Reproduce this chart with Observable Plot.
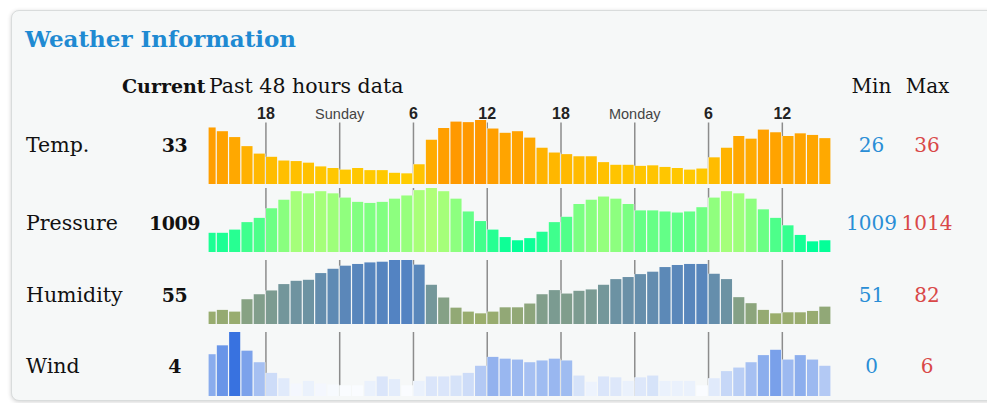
<!DOCTYPE html>
<html>
<head>
<meta charset="utf-8">
<script src="https://cdn.jsdelivr.net/npm/d3@7"></script>
<script src="https://cdn.jsdelivr.net/npm/@observablehq/plot@0.6"></script>
<style>
  html, body { margin: 0; padding: 0; background: #ffffff; }
  #root { position: relative; width: 987px; height: 403px; overflow: hidden; }
  #card { position: absolute; left: 11px; top: 10px; width: 990px; height: 389px;
          background: #f6f8f8; border: 1px solid #d9dcdc; border-radius: 8px;
          box-shadow: 0 1px 4px rgba(0,0,0,0.18); }
  .row { position: absolute; left: 0; }
  #labels { position: absolute; left: 0; top: 0; }
</style>
</head>
<body>
<div id="root"><div id="card"></div></div>
<script>
// ---- Data ----
// bar start hours (Saturday 13:20 .. Monday 15:00), each bar lasts until the next start; last ends at 64 (Mon 16:00)
const barStart = [13.33, 14, 15, 16, 17, 18, 19, 20, 21, 22, 23, 24, 25, 26, 27, 28, 29, 30, 31, 32,
  33, 34, 35, 36, 37, 38, 39, 40, 41, 42, 43, 44, 45, 46, 47, 48, 49, 50, 51, 52,
  53, 54, 55, 56, 57, 58, 59, 60, 61, 62, 63];
const lastEnd = 64;

const temp = [34.6, 33.9, 32.8, 31.1, 29.7, 29.1, 28.4, 28.3, 28.0, 27.3, 27.0, 26.7, 27.0, 26.6, 26.6, 26.1, 26.0,
  27.7, 32.3, 34.5, 35.7, 35.6, 36.0, 34.4, 33.6, 33.9, 32.7, 30.8, 29.9, 29.6, 29.2, 29.2, 28.1, 27.6,
  27.6, 27.4, 27.5, 27.2, 27.0, 26.7, 26.9, 29.0, 30.8, 33.0, 32.5, 34.2, 33.7, 33.0, 33.5, 33.2, 32.6];

const pressure = [1009.8, 1009.8, 1010.1, 1010.8, 1011.2, 1012.1, 1012.9, 1013.7, 1013.5, 1013.7, 1013.5, 1013.1,
  1012.7, 1012.6, 1012.7, 1013.0, 1013.3, 1013.8, 1014.0, 1013.7, 1013.0, 1011.8, 1010.9, 1010.1, 1009.4,
  1009.1, 1009.3, 1009.9, 1010.8, 1011.3, 1012.5, 1012.9, 1013.2, 1013.0, 1012.5, 1011.9, 1011.9, 1011.8,
  1011.7, 1011.8, 1012.2, 1013.1, 1013.7, 1013.5, 1013.0, 1012.0, 1011.2, 1010.5, 1009.6, 1009.0, 1009.1];

const humidity = [52.0, 53.0, 52.0, 59.2, 62.1, 64.3, 68.0, 69.9, 70.5, 74.4, 76.9, 78.7, 79.7, 80.6, 81.0, 82.0,
  82.0, 79.3, 67.6, 60.2, 54.3, 52.0, 51.0, 52.0, 54.5, 54.5, 56.7, 62.1, 64.5, 62.5, 64.1, 64.9, 67.6, 70.9,
  72.1, 73.8, 75.2, 77.9, 79.1, 79.7, 79.7, 74.0, 70.9, 60.4, 56.9, 53.0, 51.0, 51.6, 51.6, 52.4, 54.9];

const wind = [3.5, 4.5, 6.0, 3.9, 2.6, 1.4, 0.8, 0.2, 0.5, 0.2, 0.1, 0.0, 0.0, 0.5, 1.0, 0.7, 0.0, 0.5, 1.0, 1.0,
  1.1, 1.4, 2.2, 3.2, 3.0, 2.9, 2.6, 2.8, 3.0, 2.8, 1.1, 0.4, 1.0, 0.9, 0.5, 0.9, 1.1, 0.5, 0.5, 0.5, 0.0,
  0.8, 1.6, 2.0, 2.6, 3.4, 4.0, 2.9, 3.4, 2.9, 2.2];

const tickHours = [18, 24, 30, 36, 42, 48, 54, 60];
const tickLabels = ["18", "Sunday", "6", "12", "18", "Monday", "6", "12"];
const dayNames = ["Sunday", "Monday"];

const rowNames = ["Temp.", "Pressure", "Humidity", "Wind"];
const currentValues = ["33", "1009", "55", "4"];
const minValues = ["26", "1009", "51", "0"];
const maxValues = ["36", "1014", "82", "6"];

// ---- Layout ----
const W = 987;
const xLeft = 208, xRight = 831;
const frameH = 64;
const cardBg = "#f6f8f8";
const rows = [
  {values: temp,     min: 26,   max: 36,   lo: "#ffcc00", hi: "#ff9700", frameTop: 119.5, ruleInset: 2.5, ticks: true},
  {values: pressure, min: 1009, max: 1014, lo: "#00ff99", hi: "#b0ff78", frameTop: 188,   ruleInset: 0},
  {values: humidity, min: 51,   max: 82,   lo: "#9aad6c", hi: "#5383c2", frameTop: 260,   ruleInset: 0},
  {values: wind,     min: 0,    max: 6,    lo: "#fafcff", hi: "#3872e0", frameTop: 332,   ruleInset: 0}
];
const baselines = [152.3, 230, 301.7, 373];

const root = document.getElementById("root");
const ticks = tickHours.map((h, i) => ({h, label: tickLabels[i], day: dayNames.includes(tickLabels[i])}));

rows.forEach((r) => {
  const d0 = r.min - 0.2 * (r.max - r.min);
  const data = barStart.map((s, i) => ({x1: s, x2: i + 1 < barStart.length ? barStart[i + 1] : lastEnd, v: r.values[i]}));
  const mt = r.ticks ? 32 : 2;
  const mb = 2;
  const marks = [
    Plot.ruleX(tickHours, {x: d => d, stroke: "#8c8c8c", strokeWidth: 1.5, insetTop: r.ruleInset}),
    // background-coloured full-width block so rules never show through the gaps between bars
    Plot.rect(data, {x1: "x1", x2: "x2", y1: () => d0, y2: "v", fill: cardBg}),
    Plot.rect(data, {x1: "x1", x2: "x2", y1: () => d0, y2: "v", fill: "v", insetLeft: 0.6, insetRight: 0.6})
  ];
  if (r.ticks) {
    marks.push(Plot.text(ticks.filter(t => !t.day), {x: "h", text: "label", frameAnchor: "top", lineAnchor: "bottom",
      dy: -1.5, fontFamily: "Liberation Sans, Arial, sans-serif", fontSize: 16, fontWeight: "bold", fill: "#222"}));
    marks.push(Plot.text(ticks.filter(t => t.day), {x: "h", text: "label", frameAnchor: "top", lineAnchor: "bottom",
      dy: -2, fontFamily: "Liberation Sans, Arial, sans-serif", fontSize: 14.5, fill: "#444"}));
  }
  const chart = Plot.plot({
    width: W,
    height: frameH + mt + mb,
    marginLeft: xLeft,
    marginRight: W - xRight,
    marginTop: mt,
    marginBottom: mb,
    style: {background: "transparent", overflow: "visible"},
    x: {type: "linear", domain: [barStart[0], lastEnd], axis: null},
    y: {domain: [d0, r.max], axis: null},
    color: {type: "linear", domain: [r.min, r.max], range: [r.lo, r.hi], clamp: true},
    marks
  });
  chart.classList.add("row");
  chart.style.position = "absolute";
  chart.style.top = (r.frameTop - mt) + "px";
  chart.style.left = "0px";
  root.appendChild(chart);
});

// ---- Text labels ----
const svg = d3.select(root).append("svg")
  .attr("id", "labels").attr("width", W).attr("height", 403);
const serif = "DejaVu Serif, serif";

svg.append("text").attr("x", 25).attr("y", 47).text("Weather Information")
  .attr("font-family", serif).attr("font-weight", "bold").attr("font-size", 23).attr("fill", "#1f8ad2");

svg.append("text").attr("x", 122).attr("y", 92.5).text("Current")
  .attr("font-family", serif).attr("font-weight", "bold").attr("font-size", 19).attr("fill", "#111");
svg.append("text").attr("x", 209).attr("y", 92.5).text("Past 48 hours data")
  .attr("font-family", serif).attr("font-size", 20.5).attr("fill", "#111");
svg.append("text").attr("x", 871.5).attr("y", 93).attr("text-anchor", "middle").text("Min")
  .attr("font-family", serif).attr("font-size", 20).attr("fill", "#111");
svg.append("text").attr("x", 927.5).attr("y", 93).attr("text-anchor", "middle").text("Max")
  .attr("font-family", serif).attr("font-size", 20).attr("fill", "#111");

rowNames.forEach((name, i) => {
  const y = baselines[i];
  svg.append("text").attr("x", 26).attr("y", y).text(name)
    .attr("font-family", serif).attr("font-size", 20.5).attr("fill", "#111");
  svg.append("text").attr("x", 174.5).attr("y", y).attr("text-anchor", "middle").text(currentValues[i])
    .attr("font-family", serif).attr("font-weight", "bold").attr("font-size", 19).attr("fill", "#111")
    .attr("letter-spacing", -0.5);
  svg.append("text").attr("x", 871.5).attr("y", y).attr("text-anchor", "middle").text(minValues[i])
    .attr("font-family", serif).attr("font-size", 20).attr("fill", "#2a8ed6");
  svg.append("text").attr("x", 927).attr("y", y).attr("text-anchor", "middle").text(maxValues[i])
    .attr("font-family", serif).attr("font-size", 20).attr("fill", "#d94848");
});
</script>
</body>
</html>
